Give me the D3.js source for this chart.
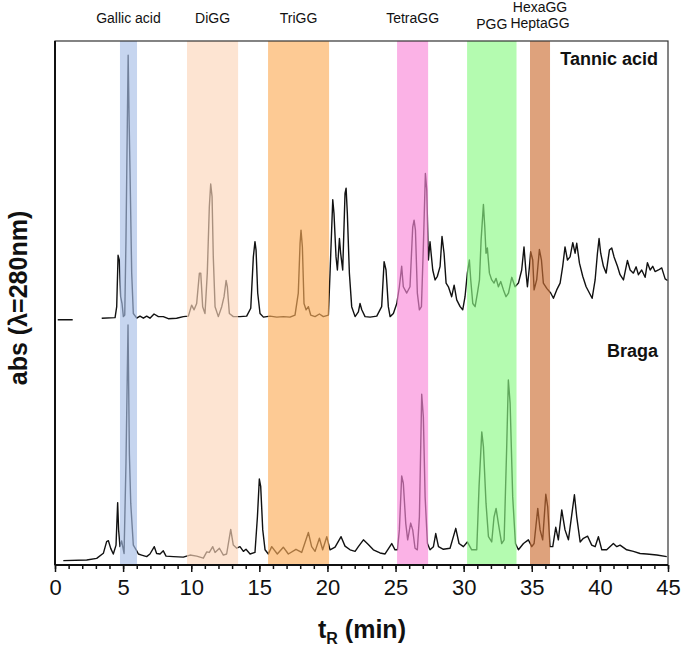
<!DOCTYPE html>
<html><head><meta charset="utf-8">
<script src="https://cdn.jsdelivr.net/npm/d3@7"></script>
<style>body{margin:0;background:#fff}svg{display:block}</style>
</head><body>
<svg id="chart" width="685" height="649"></svg>
<script>
// ---------- DATA ----------
const bandNames  = [["Gallic acid"], ["DiGG"], ["TriGG"], ["TetraGG"], ["PGG"], ["HexaGG", "HeptaGG"]];
const bandStart  = [4.77, 9.69, 15.64, 25.11, 30.25, 34.87];
const bandEnd    = [6.02, 13.44, 20.12, 27.39, 33.88, 36.34];

const xTicks = [0, 5, 10, 15, 20, 25, 30, 35, 40, 45];

const tannicTime = [0.2, 1.3, null,
  3.43, 4.41, 4.53, 4.63, 4.72, 4.82, 4.92, 5.02, 5.12, 5.21, 5.31, 5.37, 5.44, 5.51, 5.63, 5.75, 6.0, 6.24, 6.49, 6.73, 6.97,
  7.27, 7.59, 7.95, 8.32, 8.93, 9.42, 9.79, 10.03, 10.21, 10.4, 10.6, 10.7, 10.84, 11.01, 11.18, 11.33, 11.43, 11.53, 11.62,
  11.75, 11.99, 12.24, 12.41, 12.56, 12.65, 12.8, 13.09, 13.58, 14.07, 14.37, 14.56, 14.68, 14.76, 14.88, 15.05, 15.3, 15.79,
  16.28, 16.76, 17.25, 17.62, 17.86, 17.99, 18.06, 18.16, 18.28, 18.43, 18.6, 18.77, 19.09, 19.41, 19.7, 20.07, 20.19, 20.39,
  20.48, 20.63, 20.73, 20.88, 20.97, 21.12, 21.29, 21.37, 21.46, 21.61, 21.78, 22.03, 22.27, 22.39, 22.52, 22.76, 23.13, 23.62,
  23.98, 24.16, 24.3, 24.47, 24.6, 24.84, 25.09, 25.28, 25.45, 25.57, 25.82, 26.06, 26.26, 26.36, 26.46, 26.6, 26.75, 26.9,
  27.04, 27.19, 27.29, 27.41, 27.53, 27.61, 27.73, 27.9, 28.07, 28.27, 28.41, 28.56, 28.71, 28.88, 29.12, 29.3, 29.49, 29.74,
  29.93, 30.1, 30.27, 30.42, 30.52, 30.67, 30.84, 31.01, 31.16, 31.28, 31.45, 31.55, 31.64, 31.74, 31.89, 32.06, 32.23, 32.38,
  32.55, 32.72, 32.92, 33.11, 33.29, 33.53, 33.77, 34.02, 34.26, 34.43, 34.58, 34.68, 34.83, 34.92, 35.07, 35.17, 35.36, 35.56,
  35.71, 35.85, 36.1, 36.39, 36.59, 36.83, 37.08, 37.27, 37.44, 37.62, 37.81, 38.01, 38.18, 38.3, 38.5, 38.74, 38.99, 39.23,
  39.43, 39.65, 39.82, 39.94, 40.06, 40.26, 40.46, 40.7, 40.87, 41.04, 41.29, 41.48, 41.73, 42.02, 42.22, 42.46, 42.66, 42.83,
  43.07, 43.32, 43.49, 43.69, 43.88, 44.05, 44.3, 44.54, 44.79, 44.96];
const tannicAbs = [46.8, 46.8, null,
  47.1, 47.2, 49.3, 59.1, 58.2, 51.2, 49.9, 47.4, 47.7, 62.0, 84.3, 97.3, 85.0, 74.7, 55.7, 48.0, 47.1, 47.5, 47.1, 47.5, 47.1,
  47.9, 47.4, 47.4, 47.0, 47.1, 47.4, 47.5, 49.6, 48.7, 49.9, 55.7, 55.7, 49.3, 48.0, 55.7, 68.4, 72.7, 70.3, 58.8,
  49.3, 47.4, 49.3, 51.2, 54.3, 53.1, 48.0, 47.4, 47.4, 47.5, 49.0, 58.8, 61.7, 60.1, 51.9, 48.0, 47.3, 47.5,
  47.3, 47.4, 47.3, 47.7, 51.9, 61.4, 63.9, 60.7, 49.9, 48.7, 49.3, 47.7, 47.4, 47.9, 47.4, 47.7, 55.7, 69.7,
  67.1, 58.8, 56.3, 62.3, 59.5, 56.3, 70.9, 71.9, 67.1, 55.7, 49.3, 47.4, 48.3, 49.9, 48.7, 47.4, 47.3, 47.5,
  49.3, 57.9, 56.3, 49.3, 47.4, 48.0, 49.9, 53.1, 57.0, 53.1, 51.9, 53.1, 64.5, 65.8, 63.9, 51.9, 48.7, 49.3,
  60.7, 74.7, 71.6, 58.2, 61.7, 59.5, 56.3, 54.4, 55.1, 57.0, 62.7, 59.5, 53.8, 53.1, 51.2, 53.4, 50.6, 49.3,
  48.7, 51.2, 55.7, 58.2, 54.4, 49.9, 49.3, 51.9, 54.4, 62.0, 68.8, 64.5, 59.5, 60.5, 55.7, 54.4, 53.8, 54.7,
  53.1, 54.1, 52.5, 51.2, 51.9, 54.9, 53.1, 53.8, 56.3, 60.7, 55.7, 53.1, 57.0, 59.8, 58.2, 52.5, 54.4, 60.2,
  58.2, 53.8, 52.8, 51.9, 50.9, 52.5, 53.8, 57.0, 60.7, 58.2, 58.8, 61.5, 59.5, 61.4, 57.6, 55.1, 53.1, 51.9,
  50.9, 54.4, 59.5, 62.3, 59.5, 57.0, 55.7, 60.1, 60.5, 58.8, 57.0, 55.4, 54.4, 58.1, 56.3, 55.7, 56.9, 55.4,
  56.3, 54.9, 57.7, 56.3, 57.0, 56.0, 56.3, 56.7, 54.6, 54.3];

const bragaTime = [0.61, 2.33, 3.06, 3.55, 3.79, 3.92, 4.09, 4.28, 4.48, 4.6, 4.67, 4.77, 4.89, 5.07, 5.21, 5.36, 5.46, 5.56,
  5.75, 6.0, 6.12, 6.36, 6.73, 6.97, 7.29, 7.46, 7.71, 7.95, 8.15, 8.69, 9.42, 9.91, 10.4, 10.89, 11.14, 11.33, 11.58, 11.75,
  12.07, 12.36, 12.6, 12.9, 13.09, 13.34, 13.58, 13.83, 14.02, 14.32, 14.68, 14.86, 15.0, 15.1, 15.25, 15.42, 15.66, 15.91,
  16.32, 16.76, 17.13, 17.69, 18.11, 18.6, 18.84, 19.09, 19.41, 19.65, 19.95, 20.19, 20.56, 21.0, 21.29, 21.66, 22.03, 22.27,
  22.64, 23.0, 23.37, 23.86, 24.23, 24.72, 24.96, 25.14, 25.28, 25.45, 25.57, 25.75, 25.89, 26.11, 26.26, 26.43, 26.6, 26.75,
  26.92, 27.04, 27.17, 27.34, 27.53, 27.78, 27.95, 28.15, 28.51, 29.0, 29.42, 29.66, 29.98, 30.27, 30.59, 30.96, 31.13, 31.33,
  31.45, 31.64, 31.82, 32.06, 32.23, 32.38, 32.55, 32.79, 32.97, 33.16, 33.28, 33.41, 33.6, 33.8, 34.02, 34.39, 34.75, 35.0,
  35.17, 35.44, 35.61, 35.8, 36.03, 36.17, 36.34, 36.54, 36.76, 36.95, 37.2, 37.44, 37.69, 38.13, 38.3, 38.55, 38.79, 39.1,
  39.4, 39.65, 39.89, 40.14, 40.5, 40.99, 41.24, 41.48, 41.97, 42.46, 42.95, 43.44, 44.18, 44.91];
const bragaAbs = [0.83, 0.95, 1.27, 2.23, 4.45, 4.64, 3.18, 2.1, 3.8, 11.9, 6.7, 3.5, 4.6, 2.2, 19.4, 45.8, 21.3, 11.8,
  3.8, 2.7, 2.1, 1.9, 1.6, 2.1, 3.5, 2.2, 2.1, 2.7, 1.7, 1.6, 1.5, 1.9, 1.7, 1.3, 2.5, 2.4, 3.5, 2.4,
  3.2, 1.9, 2.1, 6.8, 3.8, 3.2, 3.5, 2.6, 3.0, 2.1, 2.4, 9.2, 16.4, 15.0, 6.7, 2.9, 2.1, 3.5,
  2.1, 3.4, 2.1, 3.0, 2.4, 6.2, 3.5, 2.6, 5.1, 2.9, 5.4, 2.9, 3.4, 5.4, 3.6, 2.9, 2.6, 3.5,
  4.8, 3.9, 2.9, 2.3, 2.1, 4.1, 2.9, 2.9, 6.7, 17.0, 15.6, 7.9, 4.8, 8.0, 6.7, 3.2, 2.9, 9.2,
  32.6, 28.3, 13.0, 4.1, 2.9, 3.5, 6.0, 3.5, 3.0, 3.2, 7.0, 4.1, 3.5, 4.4, 2.9, 2.9, 15.0, 25.4,
  22.6, 11.8, 5.4, 4.4, 9.2, 10.8, 7.9, 4.1, 4.8, 22.6, 35.3, 30.9, 13.0, 4.1, 2.9, 4.1, 4.8, 3.5,
  4.1, 10.8, 6.7, 4.8, 13.5, 11.1, 3.5, 3.5, 7.2, 4.8, 10.5, 6.7, 4.8, 13.4, 9.2, 4.4, 5.1, 5.5,
  3.8, 3.5, 5.4, 2.9, 2.9, 4.1, 3.5, 3.8, 2.9, 2.6, 2.2, 2.1, 1.9, 1.6];

const seriesLabels = ["Tannic acid", "Braga"];

// ---------- STYLE ----------
const bandFill = ["#a7bee6", "#fcd5ba", "#fcad5a", "#f988d9", "#8cf986", "#cc7035"];
const bandOpacity = 0.65;
const plot = {left: 55, right: 668, top: 41, bottom: 565};
const font = "'Liberation Sans', Arial, Helvetica, sans-serif";

const svg = d3.select("#chart");
const x = d3.scaleLinear().domain([0, 45]).range([plot.left, plot.right]);
const y = d3.scaleLinear().domain([0, 100]).range([plot.bottom, plot.top]);

const line = d3.line()
  .defined(d => d[0] != null && d[1] != null)
  .x(d => x(d[0])).y(d => y(d[1]));

const tannic = d3.zip(tannicTime, tannicAbs);
const braga = d3.zip(bragaTime, bragaAbs);

const gLines = svg.append("g");
[braga, tannic].forEach(s => {
  gLines.append("path").datum(s).attr("d", line)
    .attr("fill", "none").attr("stroke", "#111").attr("stroke-width", 1.4).attr("stroke-linejoin", "round");
});

// bands drawn over the traces (semi-transparent)
const bands = bandNames.map((n, i) => ({name: n, s: bandStart[i], e: bandEnd[i], c: bandFill[i]}));
svg.append("g").selectAll("rect").data(bands).join("rect")
  .attr("x", d => x(d.s)).attr("width", d => x(d.e) - x(d.s))
  .attr("y", y(100)).attr("height", y(0) - y(100))
  .attr("fill", d => d.c).attr("opacity", bandOpacity);

// band labels
const labelBase = [23, 23, 23, 23, 29, 12];
const gl = svg.append("g").attr("font-family", font).attr("font-size", 14).attr("fill", "#111").attr("text-anchor", "middle");
bands.forEach((b, i) => {
  b.name.forEach((t, j) => {
    gl.append("text").attr("x", x((b.s + b.e) / 2)).attr("y", labelBase[i] + j * 16).text(t);
  });
});

// frame
svg.append("rect").attr("x", plot.left).attr("y", plot.top)
  .attr("width", plot.right - plot.left).attr("height", plot.bottom - plot.top)
  .attr("fill", "none").attr("stroke", "#333").attr("stroke-width", 1.2);

// x axis
const xAxis = svg.append("g").attr("transform", `translate(0,${plot.bottom})`);
xAxis.call(d3.axisBottom(x).tickValues(d3.range(0, 46, 1)).tickSize(4).tickFormat(""))
  .call(g => g.select(".domain").remove());
xAxis.append("g").call(d3.axisBottom(x).tickValues(xTicks).tickSize(7).tickPadding(7).tickFormat(d3.format("d")))
  .call(g => g.select(".domain").remove())
  .call(g => g.selectAll("text").attr("font-family", font).attr("font-size", 22).attr("fill", "#111"));
svg.selectAll(".tick line").attr("stroke", "#111").attr("stroke-width", 1.5);
svg.append("line").attr("x1", plot.left).attr("x2", plot.right).attr("y1", plot.bottom).attr("y2", plot.bottom)
  .attr("stroke", "#111").attr("stroke-width", 2);
svg.append("line").attr("x1", plot.left).attr("x2", plot.left).attr("y1", plot.top).attr("y2", plot.bottom)
  .attr("stroke", "#111").attr("stroke-width", 2);

// axis titles
const xt = svg.append("text").attr("x", 362).attr("y", 638).attr("text-anchor", "middle")
  .attr("font-family", font).attr("font-weight", "bold").attr("font-size", 25).attr("fill", "#111");
xt.append("tspan").text("t");
xt.append("tspan").attr("font-size", 16).attr("dy", 6).text("R");
xt.append("tspan").attr("dy", -6).text(" (min)");

svg.append("text").attr("transform", `translate(27,298) rotate(-90)`)
  .attr("text-anchor", "middle").attr("font-family", font).attr("font-weight", "bold")
  .attr("font-size", 25).attr("fill", "#111").text("abs (λ=280nm)");

// series labels
const seriesY = [65, 357];
svg.append("g").selectAll("text").data(seriesLabels).join("text")
  .attr("x", 658).attr("y", (d, i) => seriesY[i]).attr("text-anchor", "end")
  .attr("font-family", font).attr("font-weight", "bold").attr("font-size", 18).attr("fill", "#111")
  .text(d => d);
</script>
</body></html>
